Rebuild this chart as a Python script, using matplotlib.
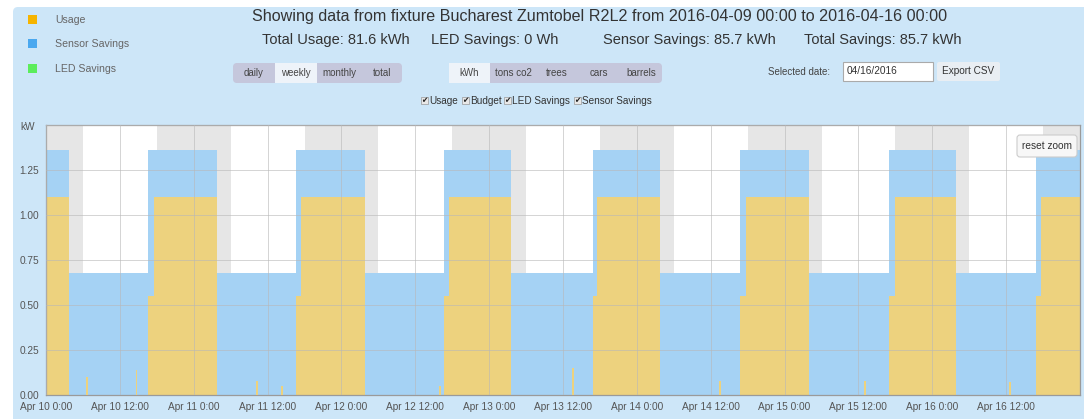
import matplotlib
matplotlib.use("Agg")
import matplotlib.pyplot as plt
from matplotlib.patches import FancyBboxPatch, Rectangle

plt.rcParams["font.family"] = ["Liberation Sans", "DejaVu Sans"]

W, H = 1084, 419

# ── Data (hours from Apr 10 0:00) ─────────────────────────────────────────
DAY_LABELS   = ["Apr 10", "Apr 11", "Apr 12", "Apr 13", "Apr 14", "Apr 15", "Apr 16"]
OFF_HOURS    = [3.8, 3.8, 3.9, 3.6, 3.8, 3.9, 3.8]        # morning: lights off
ON_HOURS     = [16.6, 16.6, 16.7, 16.8, 16.8, 16.9, 16.8]  # evening: lights on (dimmed)
FULL_HOURS   = [17.6, 17.4, 17.5, 17.6, 17.7, 17.9, 17.7]  # evening: full power
BUDGET_ON    = 1.36
BUDGET_OFF   = 0.68
USAGE_FULL   = 1.10
USAGE_DIM    = 0.55

SPIKE_HOURS  = [6.6, 14.7, 34.3, 38.4, 64.0, 85.6, 109.5, 133.0, 156.6]
SPIKE_KW     = [0.10, 0.14, 0.08, 0.05, 0.05, 0.15, 0.08, 0.08, 0.07]

NIGHT_STARTS = [-6, 18, 42, 66, 90, 114, 138, 162]         # grey bands, 12 h each
TICK_HOURS   = [0, 12, 24, 36, 48, 60, 72, 84, 96, 108, 120, 132, 144, 156]
TICK_LABELS  = ["Apr 10 0:00", "Apr 10 12:00", "Apr 11 0:00", "Apr 11 12:00",
                "Apr 12 0:00", "Apr 12 12:00", "Apr 13 0:00", "Apr 13 12:00",
                "Apr 14 0:00", "Apr 14 12:00", "Apr 15 0:00", "Apr 15 12:00",
                "Apr 16 0:00", "Apr 16 12:00"]
Y_TICKS      = [0, 0.25, 0.5, 0.75, 1.0, 1.25]

BLUE   = "#a5d2f4"
YELLOW = "#edd27e"
PANEL  = "#cde6f8"

# ── Step series from schedule ─────────────────────────────────────────────
t, budget, usage = [0.0], [BUDGET_ON], [USAGE_FULL]
for d in range(len(DAY_LABELS)):
    base = 24 * d
    t += [base + OFF_HOURS[d], base + ON_HOURS[d], base + FULL_HOURS[d]]
    budget += [BUDGET_OFF, BUDGET_ON, BUDGET_ON]
    usage += [0.0, USAGE_DIM, USAGE_FULL]
t.append(168.0)
budget.append(budget[-1])
usage.append(usage[-1])

fig = plt.figure(figsize=(W / 100, H / 100), dpi=100)
fig.patch.set_facecolor("white")

# ── Background panel ──────────────────────────────────────────────────────
bg = fig.add_axes([0, 0, 1, 1], zorder=0)
bg.set_xlim(0, W)
bg.set_ylim(H, 0)
bg.axis("off")
bg.add_patch(FancyBboxPatch((13, 7), W, H, boxstyle="round,pad=0,rounding_size=5",
                            facecolor=PANEL, edgecolor="none"))

# ── Main chart ────────────────────────────────────────────────────────────
ax = fig.add_axes([46 / W, 1 - 395 / H, 1034 / W, 270 / H], zorder=1)
ax.set_facecolor("white")
for s in NIGHT_STARTS:
    ax.axvspan(s, s + 12, color="#e6e6e6", lw=0, zorder=0)
ax.fill_between(t, 0, usage, step="post", color=YELLOW, lw=0, zorder=2)
ax.fill_between(t, usage, budget, step="post", color=BLUE, lw=0, zorder=2)
ax.bar(SPIKE_HOURS, SPIKE_KW, width=0.3, color=YELLOW, lw=0, zorder=3)

ax.set_xlim(0, 168)
ax.set_ylim(0, 1.5)
ax.set_xticks(TICK_HOURS + [168])
ax.set_xticklabels(TICK_LABELS + [""])
ax.set_yticks(Y_TICKS + [1.5])
ax.set_yticklabels([f"{v:.2f}" for v in Y_TICKS] + [""])
ax.tick_params(length=0, labelsize=7.3, colors="#555555", pad=5)
ax.grid(True, color="#b8b8b8", lw=0.7, alpha=0.6, zorder=4)
ax.set_axisbelow(False)
for sp in ax.spines.values():
    sp.set_color("#9a9a9a")
    sp.set_linewidth(0.9)

# ── UI overlay ────────────────────────────────────────────────────────────
ui = fig.add_axes([0, 0, 1, 1], zorder=2)
ui.set_xlim(0, W)
ui.set_ylim(H, 0)
ui.axis("off")
ui.patch.set_alpha(0)

ui.text(28, 127, "kW", fontsize=7.3, color="#555555", ha="center", va="center")

# legend
for y, c, lab in [(20, "#f6b400", "Usage"), (44, "#4aa8ef", "Sensor Savings"),
                  (69, "#5ced5c", "LED Savings")]:
    ui.add_patch(Rectangle((28, y - 4.5), 9, 9, facecolor=c, edgecolor="none"))
    ui.text(55, y, lab, fontsize=7.6, color="#666666", va="center")

# titles
ui.text(600, 17, "Showing data from fixture Bucharest Zumtobel R2L2 from "
        "2016-04-09 00:00 to 2016-04-16 00:00",
        fontsize=11.6, color="#333333", ha="center", va="center")
for x, s in [(262, "Total Usage: 81.6 kWh"), (431, "LED Savings: 0 Wh"),
             (603, "Sensor Savings: 85.7 kWh"), (804, "Total Savings: 85.7 kWh")]:
    ui.text(x, 40, s, fontsize=10.5, color="#333333", ha="left", va="center")


def button_group(x0, labels, edges, selected):
    ui.add_patch(FancyBboxPatch((x0, 63), edges[-1] - x0, 20,
                                boxstyle="round,pad=0,rounding_size=4",
                                facecolor="#c5c7dc", edgecolor="none"))
    left = x0
    for lab, right in zip(labels, edges):
        if lab == selected:
            ui.add_patch(Rectangle((left, 63), right - left, 20,
                                   facecolor="#eef3f9", edgecolor="none"))
        ui.text((left + right) / 2, 73.5, lab, fontsize=7, color="#444444",
                ha="center", va="center")
        left = right


button_group(233, ["daily", "weekly", "monthly", "total"], [275, 317, 362, 402], "weekly")
button_group(449, ["kWh", "tons co2", "trees", "cars", "barrels"],
             [490, 536, 578, 620, 662], "kWh")

ui.text(768, 72, "Selected date:", fontsize=7, color="#444444", va="center")
ui.add_patch(Rectangle((843, 62), 90, 19, facecolor="white", edgecolor="#aaaaaa", lw=0.8))
ui.text(847, 71.5, "04/16/2016", fontsize=7.3, color="#333333", va="center")
ui.add_patch(FancyBboxPatch((937, 62), 63, 19, boxstyle="round,pad=0,rounding_size=2",
                            facecolor="#e9eef3", edgecolor="none"))
ui.text(968.5, 71.5, "Export CSV", fontsize=7.2, color="#333333", ha="center", va="center")

# checkboxes
for x, lab in [(421, "Usage"), (462, "Budget"), (504, "LED Savings"), (574, "Sensor Savings")]:
    ui.add_patch(Rectangle((x, 97), 7, 7, facecolor="#e8e8e8", edgecolor="#999999", lw=0.5))
    ui.text(x + 3.5, 100.5, "\u2714", fontsize=5.5, color="#222222", ha="center",
            va="center", family="DejaVu Sans")
    ui.text(x + 8.5, 101, lab, fontsize=7.2, color="#333333", va="center")

# reset zoom
ui.add_patch(FancyBboxPatch((1017, 135), 60, 22, boxstyle="round,pad=0,rounding_size=3",
                            facecolor="#f7f7f7", edgecolor="#cccccc", lw=0.8))
ui.text(1047, 146, "reset zoom", fontsize=7.3, color="#333333", ha="center", va="center")

fig.savefig("out.png", dpi=100, facecolor=fig.get_facecolor())
